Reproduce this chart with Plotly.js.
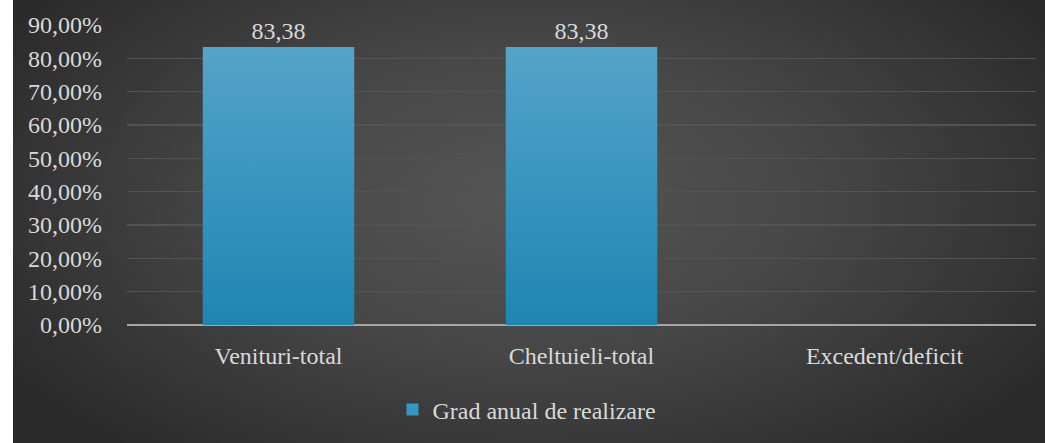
<!DOCTYPE html>
<html>
<head>
<meta charset="utf-8">
<script src="https://cdn.plot.ly/plotly-3.0.1.min.js"></script>
<style>
  body { margin: 0; background: #ffffff; }
  #grafic {
    position: absolute; left: 13px; top: 0;
    width: 1032px; height: 443px;
    background: radial-gradient(ellipse 60% 75% at 50% 45%, #555555 0%, #474747 45%, #2a2a2a 100%);
  }
</style>
</head>
<body>
<div id="grafic"></div>
<script>
const categorii = ["Venituri-total", "Cheltuieli-total", "Excedent/deficit"];
const gradRealizare = [83.38, 83.38, null];
const numeSerie = "Grad anual de realizare";
const valoriAxaY = [0, 10, 20, 30, 40, 50, 60, 70, 80, 90];
const eticheteAxaY = valoriAxaY.map(v => v.toFixed(2).replace(".", ",") + "%");

function fontText() {
  return { family: "Liberation Serif, serif", size: 24, color: "#d9d9d9" };
}

const trace = {
  x: categorii,
  y: gradRealizare,
  type: "bar",
  name: numeSerie,
  marker: { color: "#3596c1", line: { width: 0 } },
  texttemplate: "%{y:.2f}",
  textposition: "outside",
  cliponaxis: false,
  textfont: fontText(),
  hoverinfo: "skip"
};

const layout = {
  width: 1032,
  height: 443,
  margin: { l: 114, r: 9, t: 25, b: 118 },
  paper_bgcolor: "rgba(0,0,0,0)",
  plot_bgcolor: "rgba(0,0,0,0)",
  separators: ",.",
  font: fontText(),
  bargap: 0.5,
  showlegend: true,
  legend: {
    orientation: "h",
    x: 0.44, xanchor: "center",
    y: -0.283, yanchor: "middle",
    font: fontText(),
    itemwidth: 30
  },
  xaxis: {
    showgrid: false,
    showline: false,
    zeroline: false,
    ticks: "",
    ticklabelstandoff: 14,
    tickfont: fontText()
  },
  yaxis: {
    range: [0, 90],
    tickmode: "array",
    tickvals: valoriAxaY,
    ticktext: eticheteAxaY,
    showgrid: true,
    gridcolor: "#535353",
    gridwidth: 1.5,
    zeroline: true,
    zerolinecolor: "#a6a6a6",
    zerolinewidth: 2,
    ticks: "",
    ticklabelstandoff: 24,
    tickfont: fontText()
  }
};

Plotly.newPlot("grafic", [trace], layout, { staticPlot: true }).then(function () {
  // gradient pe bare, ca in original
  const svg = document.querySelector("#grafic .main-svg");
  const ns = "http://www.w3.org/2000/svg";
  const defs = document.createElementNS(ns, "defs");
  defs.innerHTML =
    '<linearGradient id="gradBara" x1="0" y1="0" x2="0" y2="1">' +
    '<stop offset="0" stop-color="#55a3c8"/>' +
    '<stop offset="1" stop-color="#1e86b3"/></linearGradient>';
  svg.insertBefore(defs, svg.firstChild);
  document.querySelectorAll("#grafic .bars .point path").forEach(function (p) {
    p.style.fill = "url(#gradBara)";
  });
  document.querySelectorAll("#grafic .legendtext").forEach(function (t) {
    t.style.fontFamily = "'Liberation Serif', serif";
  });
});
</script>
</body>
</html>
